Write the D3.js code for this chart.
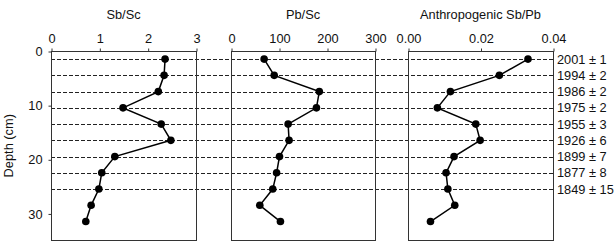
<!DOCTYPE html>
<html>
<head>
<meta charset="utf-8">
<script src="https://cdn.jsdelivr.net/npm/d3@7"></script>
<style>
  body { margin: 0; background: #fff; }
  svg { display: block; font-family: "Liberation Sans", Arial, sans-serif; }
</style>
</head>
<body>
<svg id="chart"></svg>
<script>
// sample depths (cm)
const depths = [1.5, 4.5, 7.5, 10.5, 13.5, 16.5, 19.5, 22.5, 25.5, 28.5, 31.5];
const sbSc = [2.36, 2.34, 2.22, 1.49, 2.28, 2.48, 1.32, 1.05, 0.99, 0.83, 0.72];
const pbSc = [69, 90, 184, 178, 119, 121, 101, 95, 87, 60, 103];
const anthroSbPb = [0.0331, 0.0252, 0.0117, 0.0081, 0.0187, 0.0199, 0.0127, 0.0105, 0.0110, 0.0129, 0.0062];

// dated horizons
const dateDepths = [1.5, 4.5, 7.5, 10.5, 13.5, 16.5, 19.5, 22.5, 25.5];
const dateLabels = ["2001 ± 1", "1994 ± 2", "1986 ± 2", "1975 ± 2", "1955 ± 3", "1926 ± 6", "1899 ± 7", "1877 ± 8", "1849 ± 15"];

const depthTicks = [0, 10, 20, 30];

const panels = [
  { title: "Sb/Sc", values: sbSc, domain: [0, 3], ticks: [0, 1, 2, 3], fmt: d3.format("d"), x0: 51, x1: 196 },
  { title: "Pb/Sc", values: pbSc, domain: [0, 300], ticks: [0, 100, 200, 300], fmt: d3.format("d"), x0: 231, x1: 375 },
  { title: "Anthropogenic Sb/Pb", values: anthroSbPb, domain: [0, 0.04], ticks: [0, 0.02, 0.04], fmt: d3.format(".2f"), x0: 408, x1: 553 }
];

const w = 614, h = 243;
const plotTop = 51, plotBottom = 240.5;
const fs = 12.8;

const svg = d3.select("#chart")
  .attr("width", w)
  .attr("height", h);

const yScale = d3.scaleLinear()
  .domain([0, 35])
  .range([plotTop, plotBottom]);

// dashed horizons across all panels
svg.selectAll(".horizon")
  .data(dateDepths)
  .enter()
  .append("line")
  .attr("x1", panels[0].x0)
  .attr("x2", panels[2].x1)
  .attr("y1", d => Math.round(yScale(d)) + 0.5)
  .attr("y2", d => Math.round(yScale(d)) + 0.5)
  .attr("stroke", "#222")
  .attr("stroke-width", 1)
  .attr("stroke-dasharray", "4,2");

// date labels
svg.selectAll(".date")
  .data(dateLabels)
  .enter()
  .append("text")
  .attr("x", 557)
  .attr("y", (d, i) => yScale(dateDepths[i]) + 4.5)
  .attr("font-size", fs)
  .attr("fill", "#111")
  .text(d => d);

const line = d3.line();

panels.forEach(p => {
  const xScale = d3.scaleLinear()
    .domain(p.domain)
    .range([p.x0, p.x1]);

  const g = svg.append("g");

  // frame
  g.append("rect")
    .attr("x", p.x0 + 0.5)
    .attr("y", plotTop + 0.5)
    .attr("width", p.x1 - p.x0)
    .attr("height", plotBottom - plotTop - 0.5)
    .attr("fill", "none")
    .attr("stroke", "#333")
    .attr("stroke-width", 1);

  // top axis
  const xAxis = d3.axisTop(xScale)
    .tickValues(p.ticks)
    .tickFormat(p.fmt)
    .tickSize(3)
    .tickPadding(6);

  const ax = g.append("g")
    .attr("transform", `translate(0.5,${plotTop + 0.5})`)
    .call(xAxis);
  ax.select(".domain").remove();
  ax.selectAll("line").attr("stroke", "#333");
  ax.selectAll("text")
    .attr("font-size", fs)
    .attr("font-family", "Liberation Sans, Arial, sans-serif")
    .attr("fill", "#111");

  // title
  g.append("text")
    .attr("x", (p.x0 + p.x1) / 2)
    .attr("y", 19)
    .attr("text-anchor", "middle")
    .attr("font-size", fs)
    .attr("fill", "#111")
    .text(p.title);

  const pts = p.values.map((v, i) => [xScale(v), yScale(depths[i])]);

  g.append("path")
    .datum(pts)
    .attr("fill", "none")
    .attr("stroke", "#000")
    .attr("stroke-width", 1.5)
    .attr("d", line);

  g.selectAll("circle")
    .data(pts)
    .enter()
    .append("circle")
    .attr("cx", d => d[0])
    .attr("cy", d => d[1])
    .attr("r", 3.8)
    .attr("fill", "#000");
});

// depth axis
const yAxis = d3.axisLeft(yScale)
  .tickValues(depthTicks)
  .tickSize(3)
  .tickPadding(6);

const yg = svg.append("g")
  .attr("transform", `translate(${panels[0].x0 + 0.5},0.5)`)
  .call(yAxis);
yg.select(".domain").remove();
yg.selectAll("line").attr("stroke", "#333");
yg.selectAll("text")
  .attr("font-size", fs)
  .attr("font-family", "Liberation Sans, Arial, sans-serif")
  .attr("fill", "#111");

svg.append("text")
  .attr("transform", `translate(13,${(plotTop + plotBottom) / 2}) rotate(-90)`)
  .attr("text-anchor", "middle")
  .attr("font-size", fs)
  .attr("fill", "#111")
  .text("Depth (cm)");
</script>
</body>
</html>
